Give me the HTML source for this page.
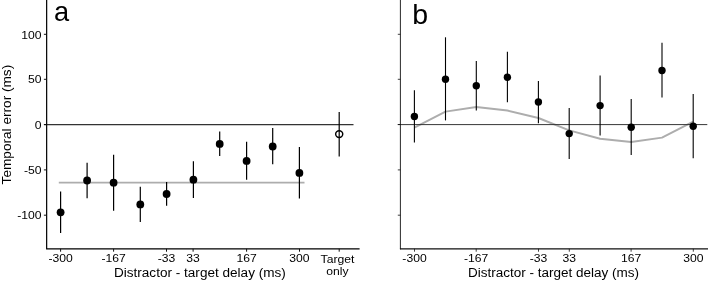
<!DOCTYPE html>
<html lang="en">
<head>
<meta charset="utf-8">
<title>Temporal error vs distractor-target delay</title>
<style>
html,body{margin:0;padding:0;background:#fff;}
body{width:708px;height:281px;overflow:hidden;}
svg{display:block;}
text{font-family:"Liberation Sans",Arial,Helvetica,sans-serif;fill:#000;}
.tick{font-size:11.7px;}
.title{font-size:13.1px;}
.panel{font-size:28.5px;}
</style>
</head>
<body>
<svg width="708" height="281" viewBox="0 0 708 281">
<rect x="0" y="0" width="708" height="281" fill="#ffffff"/>

<g id="panel-a">
<line x1="58.8" y1="182.6" x2="304.5" y2="182.6" stroke="#adadad" stroke-width="1.9"/>
<line x1="44" y1="124.65" x2="353.5" y2="124.65" stroke="#333" stroke-width="1.15"/>
<path d="M46.65 0 V248.9 H359.6" fill="none" stroke="#000" stroke-width="1.2"/>
<line x1="43.9" y1="34.3" x2="46.7" y2="34.3" stroke="#111" stroke-width="1"/>
<text class="tick" transform="translate(41.6,38.7) scale(1.04,1)" text-anchor="end">100</text>
<line x1="43.9" y1="79.3" x2="46.7" y2="79.3" stroke="#111" stroke-width="1"/>
<text class="tick" transform="translate(41.6,83.4) scale(1.04,1)" text-anchor="end">50</text>
<line x1="43.9" y1="124.5" x2="46.7" y2="124.5" stroke="#111" stroke-width="1"/>
<text class="tick" transform="translate(41.6,128.8) scale(1.04,1)" text-anchor="end">0</text>
<line x1="43.9" y1="169.9" x2="46.7" y2="169.9" stroke="#111" stroke-width="1"/>
<text class="tick" transform="translate(41.6,173.8) scale(1.04,1)" text-anchor="end">-50</text>
<line x1="43.9" y1="215.2" x2="46.7" y2="215.2" stroke="#111" stroke-width="1"/>
<text class="tick" transform="translate(41.6,219.0) scale(1.04,1)" text-anchor="end">-100</text>
<line x1="60.6" y1="248.8" x2="60.6" y2="251.7" stroke="#111" stroke-width="1"/>
<text class="tick" transform="translate(60.6,262.3) scale(1.04,1)" text-anchor="middle">-300</text>
<line x1="113.6" y1="248.8" x2="113.6" y2="251.7" stroke="#111" stroke-width="1"/>
<text class="tick" transform="translate(113.6,262.3) scale(1.04,1)" text-anchor="middle">-167</text>
<line x1="166.5" y1="248.8" x2="166.5" y2="251.7" stroke="#111" stroke-width="1"/>
<text class="tick" transform="translate(166.5,262.3) scale(1.04,1)" text-anchor="middle">-33</text>
<line x1="193.1" y1="248.8" x2="193.1" y2="251.7" stroke="#111" stroke-width="1"/>
<text class="tick" transform="translate(193.1,262.3) scale(1.04,1)" text-anchor="middle">33</text>
<line x1="246.6" y1="248.8" x2="246.6" y2="251.7" stroke="#111" stroke-width="1"/>
<text class="tick" transform="translate(246.6,262.3) scale(1.04,1)" text-anchor="middle">167</text>
<line x1="299.5" y1="248.8" x2="299.5" y2="251.7" stroke="#111" stroke-width="1"/>
<text class="tick" transform="translate(299.5,262.3) scale(1.04,1)" text-anchor="middle">300</text>
<line x1="339.2" y1="248.8" x2="339.2" y2="251.7" stroke="#111" stroke-width="1"/>
<text class="tick" transform="translate(337.5,262.5) scale(1.04,1)" text-anchor="middle">Target</text>
<text class="tick" transform="translate(337.5,274.8) scale(1.04,1)" text-anchor="middle">only</text>
<text class="title" transform="translate(199.9,276.9) scale(1.037,1)" text-anchor="middle">Distractor - target delay (ms)</text>
<text class="title" transform="translate(10.7,124.6) rotate(-90) scale(1.04,1)" text-anchor="middle">Temporal error (ms)</text>
<text class="panel" transform="translate(53.9,21.1) scale(0.955,1)">a</text>
<line x1="60.6" y1="191.5" x2="60.6" y2="232.9" stroke="#000" stroke-width="1.2"/>
<circle cx="60.6" cy="212.3" r="3.9" fill="#000"/>
<line x1="87.1" y1="162.7" x2="87.1" y2="198.3" stroke="#000" stroke-width="1.2"/>
<circle cx="87.1" cy="180.5" r="3.9" fill="#000"/>
<line x1="113.6" y1="154.8" x2="113.6" y2="210.8" stroke="#000" stroke-width="1.2"/>
<circle cx="113.6" cy="182.7" r="3.9" fill="#000"/>
<line x1="140.3" y1="186.7" x2="140.3" y2="222.0" stroke="#000" stroke-width="1.2"/>
<circle cx="140.3" cy="204.4" r="3.9" fill="#000"/>
<line x1="166.6" y1="182.0" x2="166.6" y2="205.8" stroke="#000" stroke-width="1.2"/>
<circle cx="166.6" cy="194.0" r="3.9" fill="#000"/>
<line x1="193.4" y1="161.3" x2="193.4" y2="198.0" stroke="#000" stroke-width="1.2"/>
<circle cx="193.4" cy="179.7" r="3.9" fill="#000"/>
<line x1="219.7" y1="131.6" x2="219.7" y2="155.9" stroke="#000" stroke-width="1.2"/>
<circle cx="219.7" cy="143.9" r="3.9" fill="#000"/>
<line x1="246.6" y1="141.7" x2="246.6" y2="179.7" stroke="#000" stroke-width="1.2"/>
<circle cx="246.6" cy="160.9" r="3.9" fill="#000"/>
<line x1="272.7" y1="128.1" x2="272.7" y2="164.2" stroke="#000" stroke-width="1.2"/>
<circle cx="272.7" cy="146.5" r="3.9" fill="#000"/>
<line x1="299.4" y1="147.0" x2="299.4" y2="198.4" stroke="#000" stroke-width="1.2"/>
<circle cx="299.4" cy="172.9" r="3.9" fill="#000"/>
<line x1="339.2" y1="112.0" x2="339.2" y2="156.5" stroke="#000" stroke-width="1.2"/>
<ellipse cx="339.2" cy="134.1" rx="3.55" ry="3.4" fill="none" stroke="#000" stroke-width="1.45"/>
</g>
<g id="panel-b">
<polyline points="414.4,127.7 445.5,111.6 476.3,107.0 507.4,110.5 538.4,118.0 569.2,130.4 600.1,138.7 631.2,142.0 662.0,137.6 693.2,121.6" fill="none" stroke="#adadad" stroke-width="1.95" stroke-linejoin="round"/>
<line x1="397.8" y1="124.6" x2="707.3" y2="124.6" stroke="#2b2b2b" stroke-width="0.95"/>
<line x1="400.4" y1="0" x2="400.4" y2="249.3" stroke="#111" stroke-width="0.9"/>
<line x1="399.95" y1="248.85" x2="708" y2="248.85" stroke="#111" stroke-width="1.1"/>
<line x1="397.8" y1="34.3" x2="400.4" y2="34.3" stroke="#111" stroke-width="0.8"/>
<line x1="397.8" y1="79.3" x2="400.4" y2="79.3" stroke="#111" stroke-width="0.8"/>
<line x1="397.8" y1="124.5" x2="400.4" y2="124.5" stroke="#111" stroke-width="0.8"/>
<line x1="397.8" y1="169.9" x2="400.4" y2="169.9" stroke="#111" stroke-width="0.8"/>
<line x1="397.8" y1="215.2" x2="400.4" y2="215.2" stroke="#111" stroke-width="0.8"/>
<line x1="414.5" y1="248.8" x2="414.5" y2="251.7" stroke="#111" stroke-width="0.8"/>
<text class="tick" transform="translate(414.5,262.3) scale(1.04,1)" text-anchor="middle">-300</text>
<line x1="476.2" y1="248.8" x2="476.2" y2="251.7" stroke="#111" stroke-width="0.8"/>
<text class="tick" transform="translate(476.2,262.3) scale(1.04,1)" text-anchor="middle">-167</text>
<line x1="538.5" y1="248.8" x2="538.5" y2="251.7" stroke="#111" stroke-width="0.8"/>
<text class="tick" transform="translate(538.5,262.3) scale(1.04,1)" text-anchor="middle">-33</text>
<line x1="569.3" y1="248.8" x2="569.3" y2="251.7" stroke="#111" stroke-width="0.8"/>
<text class="tick" transform="translate(569.3,262.3) scale(1.04,1)" text-anchor="middle">33</text>
<line x1="631.1" y1="248.8" x2="631.1" y2="251.7" stroke="#111" stroke-width="0.8"/>
<text class="tick" transform="translate(631.1,262.3) scale(1.04,1)" text-anchor="middle">167</text>
<line x1="693.3" y1="248.8" x2="693.3" y2="251.7" stroke="#111" stroke-width="0.8"/>
<text class="tick" transform="translate(693.3,262.3) scale(1.04,1)" text-anchor="middle">300</text>
<text class="title" transform="translate(553.5,276.9) scale(1.033,1)" text-anchor="middle">Distractor - target delay (ms)</text>
<text class="panel" x="412.2" y="23.9">b</text>
<line x1="414.4" y1="90.3" x2="414.4" y2="142.6" stroke="#000" stroke-width="1.1"/>
<circle cx="414.4" cy="116.5" r="3.7" fill="#000"/>
<line x1="445.5" y1="37.3" x2="445.5" y2="120.4" stroke="#000" stroke-width="1.1"/>
<circle cx="445.5" cy="79.2" r="3.7" fill="#000"/>
<line x1="476.3" y1="60.9" x2="476.3" y2="110.5" stroke="#000" stroke-width="1.1"/>
<circle cx="476.3" cy="85.8" r="3.7" fill="#000"/>
<line x1="507.4" y1="51.8" x2="507.4" y2="102.2" stroke="#000" stroke-width="1.1"/>
<circle cx="507.4" cy="77.3" r="3.7" fill="#000"/>
<line x1="538.4" y1="80.9" x2="538.4" y2="123.3" stroke="#000" stroke-width="1.1"/>
<circle cx="538.4" cy="102.0" r="3.7" fill="#000"/>
<line x1="569.2" y1="108.0" x2="569.2" y2="158.9" stroke="#000" stroke-width="1.1"/>
<circle cx="569.2" cy="133.6" r="3.7" fill="#000"/>
<line x1="600.1" y1="75.5" x2="600.1" y2="135.4" stroke="#000" stroke-width="1.1"/>
<circle cx="600.1" cy="105.6" r="3.7" fill="#000"/>
<line x1="631.2" y1="99.1" x2="631.2" y2="155.0" stroke="#000" stroke-width="1.1"/>
<circle cx="631.2" cy="127.3" r="3.7" fill="#000"/>
<line x1="662.0" y1="42.7" x2="662.0" y2="97.6" stroke="#000" stroke-width="1.1"/>
<circle cx="662.0" cy="70.5" r="3.7" fill="#000"/>
<line x1="693.2" y1="94.1" x2="693.2" y2="158.2" stroke="#000" stroke-width="1.1"/>
<circle cx="693.2" cy="126.3" r="3.7" fill="#000"/>
</g>
</svg>
</body>
</html>
